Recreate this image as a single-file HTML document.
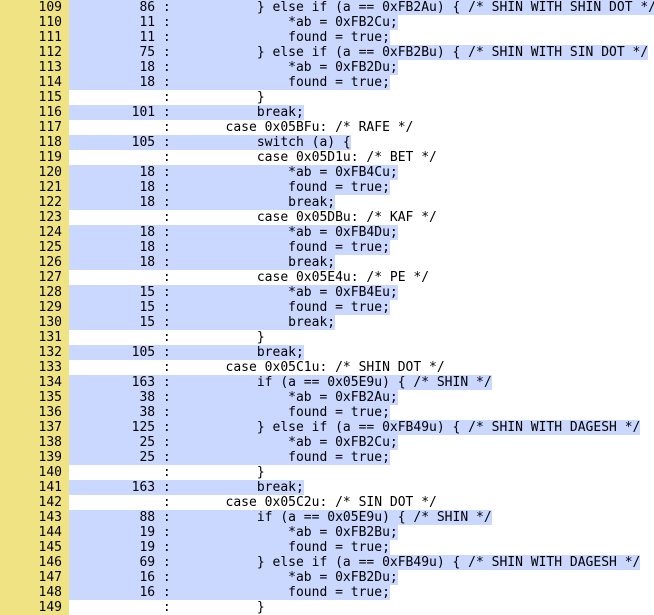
<!DOCTYPE html>
<html><head><meta charset="utf-8"><style>
html,body{margin:0;padding:0;background:#fff;width:654px;height:615px;overflow:hidden}
.r{height:15px;white-space:pre;font:13px/15px "DejaVu Sans Mono",monospace;color:#000;position:relative}
.n{position:absolute;left:0;top:0;width:69px;height:15px;background:#efe383}
.n b{font-weight:normal;position:absolute;right:7px}
.c{position:absolute;left:69px;top:0;height:15px;display:inline-block}
.c.y{background:#cad7fe}
</style></head><body>
<div class="r"><span class="n"><b>109</b></span><span class="c y">         86 :           } else if (a == 0xFB2Au) { /* SHIN WITH SHIN DOT */</span></div>
<div class="r"><span class="n"><b>110</b></span><span class="c y">         11 :               *ab = 0xFB2Cu;</span></div>
<div class="r"><span class="n"><b>111</b></span><span class="c y">         11 :               found = true;</span></div>
<div class="r"><span class="n"><b>112</b></span><span class="c y">         75 :           } else if (a == 0xFB2Bu) { /* SHIN WITH SIN DOT */</span></div>
<div class="r"><span class="n"><b>113</b></span><span class="c y">         18 :               *ab = 0xFB2Du;</span></div>
<div class="r"><span class="n"><b>114</b></span><span class="c y">         18 :               found = true;</span></div>
<div class="r"><span class="n"><b>115</b></span><span class="c">            :           }</span></div>
<div class="r"><span class="n"><b>116</b></span><span class="c y">        101 :           break;</span></div>
<div class="r"><span class="n"><b>117</b></span><span class="c">            :       case 0x05BFu: /* RAFE */</span></div>
<div class="r"><span class="n"><b>118</b></span><span class="c y">        105 :           switch (a) {</span></div>
<div class="r"><span class="n"><b>119</b></span><span class="c">            :           case 0x05D1u: /* BET */</span></div>
<div class="r"><span class="n"><b>120</b></span><span class="c y">         18 :               *ab = 0xFB4Cu;</span></div>
<div class="r"><span class="n"><b>121</b></span><span class="c y">         18 :               found = true;</span></div>
<div class="r"><span class="n"><b>122</b></span><span class="c y">         18 :               break;</span></div>
<div class="r"><span class="n"><b>123</b></span><span class="c">            :           case 0x05DBu: /* KAF */</span></div>
<div class="r"><span class="n"><b>124</b></span><span class="c y">         18 :               *ab = 0xFB4Du;</span></div>
<div class="r"><span class="n"><b>125</b></span><span class="c y">         18 :               found = true;</span></div>
<div class="r"><span class="n"><b>126</b></span><span class="c y">         18 :               break;</span></div>
<div class="r"><span class="n"><b>127</b></span><span class="c">            :           case 0x05E4u: /* PE */</span></div>
<div class="r"><span class="n"><b>128</b></span><span class="c y">         15 :               *ab = 0xFB4Eu;</span></div>
<div class="r"><span class="n"><b>129</b></span><span class="c y">         15 :               found = true;</span></div>
<div class="r"><span class="n"><b>130</b></span><span class="c y">         15 :               break;</span></div>
<div class="r"><span class="n"><b>131</b></span><span class="c">            :           }</span></div>
<div class="r"><span class="n"><b>132</b></span><span class="c y">        105 :           break;</span></div>
<div class="r"><span class="n"><b>133</b></span><span class="c">            :       case 0x05C1u: /* SHIN DOT */</span></div>
<div class="r"><span class="n"><b>134</b></span><span class="c y">        163 :           if (a == 0x05E9u) { /* SHIN */</span></div>
<div class="r"><span class="n"><b>135</b></span><span class="c y">         38 :               *ab = 0xFB2Au;</span></div>
<div class="r"><span class="n"><b>136</b></span><span class="c y">         38 :               found = true;</span></div>
<div class="r"><span class="n"><b>137</b></span><span class="c y">        125 :           } else if (a == 0xFB49u) { /* SHIN WITH DAGESH */</span></div>
<div class="r"><span class="n"><b>138</b></span><span class="c y">         25 :               *ab = 0xFB2Cu;</span></div>
<div class="r"><span class="n"><b>139</b></span><span class="c y">         25 :               found = true;</span></div>
<div class="r"><span class="n"><b>140</b></span><span class="c">            :           }</span></div>
<div class="r"><span class="n"><b>141</b></span><span class="c y">        163 :           break;</span></div>
<div class="r"><span class="n"><b>142</b></span><span class="c">            :       case 0x05C2u: /* SIN DOT */</span></div>
<div class="r"><span class="n"><b>143</b></span><span class="c y">         88 :           if (a == 0x05E9u) { /* SHIN */</span></div>
<div class="r"><span class="n"><b>144</b></span><span class="c y">         19 :               *ab = 0xFB2Bu;</span></div>
<div class="r"><span class="n"><b>145</b></span><span class="c y">         19 :               found = true;</span></div>
<div class="r"><span class="n"><b>146</b></span><span class="c y">         69 :           } else if (a == 0xFB49u) { /* SHIN WITH DAGESH */</span></div>
<div class="r"><span class="n"><b>147</b></span><span class="c y">         16 :               *ab = 0xFB2Du;</span></div>
<div class="r"><span class="n"><b>148</b></span><span class="c y">         16 :               found = true;</span></div>
<div class="r"><span class="n"><b>149</b></span><span class="c">            :           }</span></div>
</body></html>
